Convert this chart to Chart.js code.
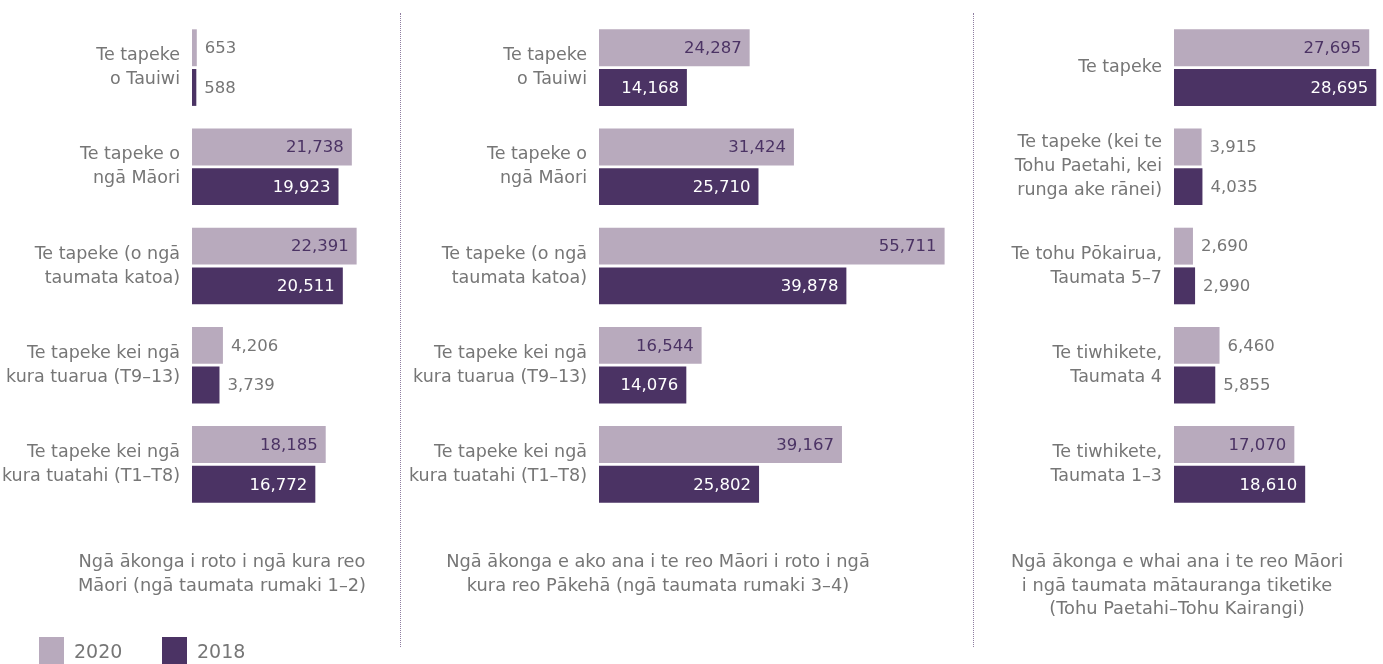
<!DOCTYPE html>
<html>
<head>
<meta charset="utf-8">
<script src="https://cdn.jsdelivr.net/npm/chart.js@4.4.1/dist/chart.umd.min.js"></script>
<style>
  html, body { margin: 0; padding: 0; background: #fff; }
  body { width: 1383px; height: 664px; position: relative; overflow: hidden; font-family: "DejaVu Sans", sans-serif; font-weight: 400; }
  .wrap { position: absolute; top: 0; }
  .sep { position: absolute; top: 13px; height: 634px; width: 0; border-left: 1.5px dotted #8f7ea0; }
  .txt { position: absolute; left: 0; top: 0; width: 1383px; height: 664px; will-change: transform; }
  .cap { position: absolute; top: 549px; color: #767676; font-size: 17.8px; line-height: 23.5px; text-align: center; }
  .leg { position: absolute; top: 637px; height: 27px; font-size: 19px; color: #767676; line-height: 29px; }
  .sw { position: absolute; top: 637px; width: 25px; height: 27px; }
</style>
</head>
<body>
<div class="wrap" style="left:0;width:400px;height:514px"><canvas id="c1"></canvas></div>
<div class="wrap" style="left:400px;width:575px;height:514px"><canvas id="c2"></canvas></div>
<div class="wrap" style="left:975px;width:408px;height:514px"><canvas id="c3"></canvas></div>
<div class="sep" style="left:400px"></div>
<div class="sep" style="left:973px"></div>
<div class="txt">
<div class="cap" style="left:22px;width:400px">Ngā ākonga i roto i ngā kura reo<br>Māori (ngā taumata rumaki 1–2)</div>
<div class="cap" style="left:383px;width:550px">Ngā ākonga e ako ana i te reo Māori i roto i ngā<br>kura reo Pākehā (ngā taumata rumaki 3–4)</div>
<div class="cap" style="left:967px;width:420px">Ngā ākonga e whai ana i te reo Māori<br>i ngā taumata mātauranga tiketike<br>(Tohu Paetahi–Tohu Kairangi)</div>
<div class="sw" style="left:39px;background:#b8aabd"></div>
<div class="leg" style="left:74px">2020</div>
<div class="sw" style="left:162px;background:#4b3364"></div>
<div class="leg" style="left:197px">2018</div>
</div>
<script>
const seriesNames = ['2020', '2018'];

const cats1 = [['Te tapeke', 'o Tauiwi'], ['Te tapeke o', 'ngā Māori'], ['Te tapeke (o ngā', 'taumata katoa)'], ['Te tapeke kei ngā', 'kura tuarua (T9–13)'], ['Te tapeke kei ngā', 'kura tuatahi (T1–T8)']];
const p1_2020 = [653, 21738, 22391, 4206, 18185];
const p1_2018 = [588, 19923, 20511, 3739, 16772];

const cats2 = [['Te tapeke', 'o Tauiwi'], ['Te tapeke o', 'ngā Māori'], ['Te tapeke (o ngā', 'taumata katoa)'], ['Te tapeke kei ngā', 'kura tuarua (T9–13)'], ['Te tapeke kei ngā', 'kura tuatahi (T1–T8)']];
const p2_2020 = [24287, 31424, 55711, 16544, 39167];
const p2_2018 = [14168, 25710, 39878, 14076, 25802];

const cats3 = [['Te tapeke'], ['Te tapeke (kei te', 'Tohu Paetahi, kei', 'runga ake rānei)'], ['Te tohu Pōkairua,', 'Taumata 5–7'], ['Te tiwhikete,', 'Taumata 4'], ['Te tiwhikete,', 'Taumata 1–3']];
const p3_2020 = [27695, 3915, 2690, 6460, 17070];
const p3_2018 = [28695, 4035, 2990, 5855, 18610];

const LIGHT = '#b8aabd', DARK = '#4b3364', GREY = '#767676';
const FONT = '"DejaVu Sans", sans-serif';

const valueLabels = {
  id: 'valueLabels',
  afterDatasetsDraw(chart) {
    const ctx = chart.ctx;
    ctx.save();
    ctx.font = '16.5px ' + FONT;
    ctx.textBaseline = 'middle';
    chart.data.datasets.forEach((ds, di) => {
      const meta = chart.getDatasetMeta(di);
      meta.data.forEach((bar, i) => {
        const txt = ds.data[i].toLocaleString('en-US');
        const w = ctx.measureText(txt).width;
        const bw = bar.x - bar.base;
        if (bw > w + 18) {
          ctx.textAlign = 'right';
          ctx.fillStyle = di === 0 ? DARK : '#ffffff';
          ctx.fillText(txt, bar.x - 8, bar.y + 1);
        } else {
          ctx.textAlign = 'left';
          ctx.fillStyle = GREY;
          ctx.fillText(txt, bar.x + 8, bar.y + 1);
        }
      });
    });
    ctx.restore();
  }
};

function makeChart(id, cats, a, b, axisW, xMax, padRight) {
  new Chart(document.getElementById(id), {
    type: 'bar',
    data: {
      labels: cats,
      datasets: [
        { label: seriesNames[0], data: a, backgroundColor: LIGHT },
        { label: seriesNames[1], data: b, backgroundColor: DARK }
      ]
    },
    options: {
      indexAxis: 'y',
      responsive: true,
      maintainAspectRatio: false,
      animation: false,
      events: [],
      layout: { padding: { top: 18, bottom: 0, left: 0, right: padRight } },
      datasets: { bar: { categoryPercentage: 0.8, barPercentage: 0.93 } },
      plugins: { legend: { display: false }, tooltip: { enabled: false } },
      scales: {
        x: { display: false, min: 0, max: xMax },
        y: {
          grid: { display: false, drawTicks: false },
          border: { display: false },
          ticks: { color: GREY, padding: 12, font: { family: FONT, size: 17.5, weight: 400, lineHeight: 1.37 } },
          afterFit(s) { s.width = axisW; s.paddingTop = 0; s.paddingBottom = 0; }
        }
      }
    },
    plugins: [valueLabels]
  });
}

makeChart('c1', cats1, p1_2020, p1_2018, 192, 27200, 8);
makeChart('c2', cats2, p2_2020, p2_2018, 199, 59000, 10);
makeChart('c3', cats3, p3_2020, p3_2018, 199, 29650, 0);
</script>
</body>
</html>
